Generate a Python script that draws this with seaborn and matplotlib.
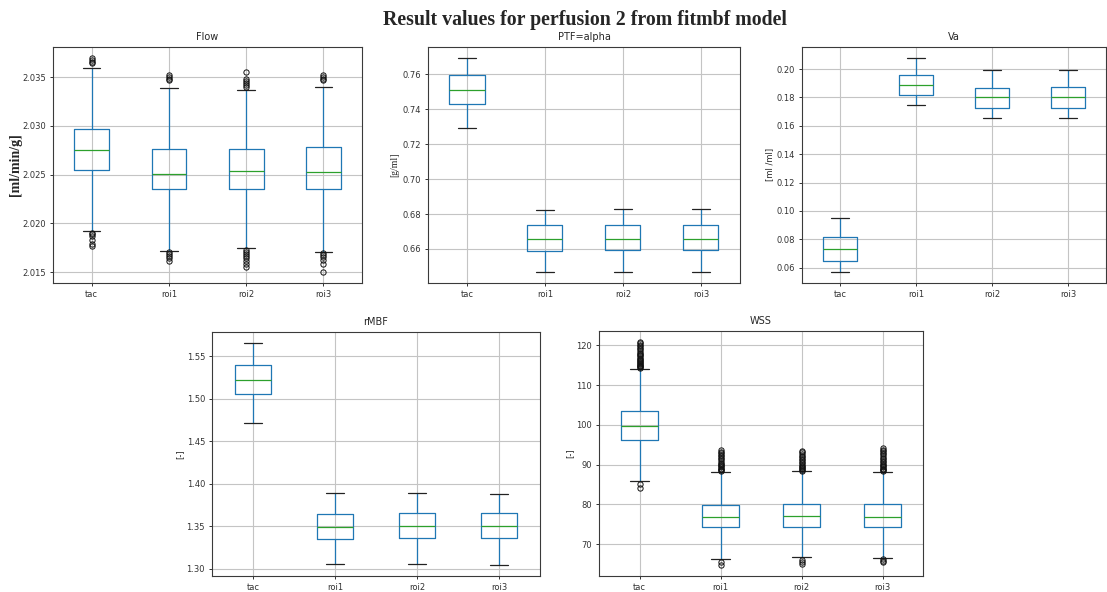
import matplotlib
matplotlib.use("Agg")
import matplotlib.pyplot as plt
import seaborn as sns

# ---- data: box statistics per model parameter ---------------------------
categories = ["tac", "roi1", "roi2", "roi3"]

flow_q1 = [2.02551, 2.02350, 2.02348, 2.02348]
flow_med = [2.02749, 2.02507, 2.02537, 2.02532]
flow_q3 = [2.02968, 2.02767, 2.02762, 2.02783]
flow_lo = [2.01926, 2.01722, 2.01744, 2.01710]
flow_hi = [2.03594, 2.03392, 2.03362, 2.03394]
flow_fliers = [
    [2.0364, 2.0365, 2.0367, 2.0370, 2.0190, 2.0189, 2.0187, 2.0183, 2.0179, 2.0177],
    [2.0347, 2.0348, 2.0350, 2.0352, 2.0171, 2.0169, 2.0167, 2.0165, 2.0162],
    [2.0340, 2.0342, 2.0344, 2.0346, 2.0348, 2.0355,
     2.0173, 2.0171, 2.0169, 2.0167, 2.0165, 2.0162, 2.0158, 2.0155],
    [2.0347, 2.0348, 2.0350, 2.0352, 2.0170, 2.0168, 2.0166, 2.0163, 2.0158, 2.0150],
]

ptf_q1 = [0.74305, 0.65886, 0.65924, 0.65924]
ptf_med = [0.75086, 0.66590, 0.66590, 0.66590]
ptf_q3 = [0.75943, 0.67352, 0.67390, 0.67350]
ptf_lo = [0.72933, 0.64667, 0.64705, 0.64705]
ptf_hi = [0.76971, 0.68248, 0.68286, 0.68286]
ptf_fliers = [[], [], [], []]

va_q1 = [0.06491, 0.18140, 0.17275, 0.17275]
va_med = [0.07345, 0.18912, 0.18000, 0.18000]
va_q3 = [0.08140, 0.19602, 0.18678, 0.18725]
va_lo = [0.05672, 0.17485, 0.16573, 0.16573]
va_hi = [0.09497, 0.20819, 0.19906, 0.19906]
va_fliers = [[], [], [], []]

rmbf_q1 = [1.50507, 1.33440, 1.33557, 1.33557]
rmbf_med = [1.52153, 1.34844, 1.35000, 1.35000]
rmbf_q3 = [1.53908, 1.36443, 1.36521, 1.36521]
rmbf_lo = [1.47075, 1.30507, 1.30507, 1.30429]
rmbf_hi = [1.56521, 1.38900, 1.38900, 1.38744]
rmbf_fliers = [[], [], [], []]

wss_q1 = [96.25, 74.3, 74.4, 74.4]
wss_med = [99.8, 76.9, 77.1, 76.9]
wss_q3 = [103.5, 79.8, 80.0, 80.0]
wss_lo = [85.8, 66.3, 66.7, 66.5]
wss_hi = [114.0, 88.2, 88.3, 88.2]
wss_fliers = [
    [114.3, 114.5, 114.7, 114.9, 115.1, 115.3, 115.5, 115.8, 116.0, 116.3, 116.6,
     116.9, 117.2, 117.5, 117.8, 118.2, 118.6, 119.0, 119.4, 119.8, 120.2, 120.5,
     120.8, 85.1, 84.2],
    [88.4, 88.6, 88.8, 89.0, 89.3, 89.6, 89.9, 90.2, 90.5, 90.9, 91.3, 91.7,
     92.1, 92.5, 92.9, 93.3, 93.7, 65.5, 64.8],
    [88.5, 88.7, 88.9, 89.1, 89.4, 89.7, 90.0, 90.3, 90.7, 91.1, 91.5, 91.9,
     92.3, 92.7, 93.1, 93.5, 66.1, 65.5, 65.0],
    [88.4, 88.6, 88.8, 89.0, 89.3, 89.6, 89.9, 90.2, 90.6, 91.0, 91.4, 91.8,
     92.2, 92.6, 93.0, 93.4, 93.8, 94.2, 66.2, 65.8, 65.5],
]

panel_titles = ["Flow", "PTF=alpha", "Va", "rMBF", "WSS"]
panel_units = ["[ml/min/g]", "[g/ml]", "[ml /ml]", "[-]", "[-]"]
suptitle = "Result values for perfusion 2 from fitmbf model"

# ---- style ---------------------------------------------------------------
sns.set_theme(style="whitegrid", rc={
    "axes.edgecolor": "#3a3a3a",
    "axes.linewidth": 0.8,
    "grid.color": "#c4c4c4",
    "grid.linewidth": 0.8,
    "xtick.bottom": True,
    "ytick.left": True,
    "xtick.major.size": 2.5,
    "ytick.major.size": 2.5,
    "xtick.major.width": 0.7,
    "ytick.major.width": 0.7,
    "xtick.major.pad": 2.5,
    "ytick.major.pad": 2.5,
    "xtick.color": "#333333",
    "ytick.color": "#333333",
    "font.size": 6,
    "xtick.labelsize": 6,
    "ytick.labelsize": 6,
    "axes.titlesize": 7,
    "axes.labelsize": 6,
})
plt.rcParams["font.family"] = ["DejaVu Sans"]

box_color = "#1f77b4"
median_color = "#2ca02c"

# axes rectangles in figure fractions: [left, bottom, width, height]
layout = [
    [0.0479, 0.522, 0.2791, 0.399],
    [0.3866, 0.522, 0.2818, 0.399],
    [0.7245, 0.522, 0.2746, 0.399],
    [0.1915, 0.0270, 0.2963, 0.412],
    [0.5411, 0.0270, 0.2927, 0.4138],
]

label_fonts = [
    dict(family="Liberation Serif", fontweight="bold", fontsize=10, labelpad=0.5),
    dict(family="Liberation Serif", fontsize=7, labelpad=2),
    dict(family="DejaVu Sans", fontsize=6, labelpad=1.5),
    dict(family="DejaVu Sans", fontsize=6, labelpad=1.5),
    dict(family="DejaVu Sans", fontsize=6, labelpad=1.5),
]

panels = [
    (flow_q1, flow_med, flow_q3, flow_lo, flow_hi, flow_fliers),
    (ptf_q1, ptf_med, ptf_q3, ptf_lo, ptf_hi, ptf_fliers),
    (va_q1, va_med, va_q3, va_lo, va_hi, va_fliers),
    (rmbf_q1, rmbf_med, rmbf_q3, rmbf_lo, rmbf_hi, rmbf_fliers),
    (wss_q1, wss_med, wss_q3, wss_lo, wss_hi, wss_fliers),
]

fig = plt.figure(figsize=(11.07, 5.92), dpi=100)
fig.patch.set_facecolor("white")

for rect, title, unit, lfont, (q1, med, q3, lo, hi, fl) in zip(
        layout, panel_titles, panel_units, label_fonts, panels):
    ax = fig.add_axes(rect)
    stats = [
        dict(label=c, q1=a, med=m, q3=b, whislo=w0, whishi=w1, fliers=f)
        for c, a, m, b, w0, w1, f in zip(categories, q1, med, q3, lo, hi, fl)
    ]
    ax.bxp(
        stats, widths=0.45, showfliers=True, patch_artist=False,
        boxprops=dict(color=box_color, linewidth=0.9),
        whiskerprops=dict(color=box_color, linewidth=0.9),
        capprops=dict(color="#222222", linewidth=0.9),
        medianprops=dict(color=median_color, linewidth=0.9),
        flierprops=dict(marker="o", markerfacecolor="none",
                        markeredgecolor="#111111", markersize=3.8,
                        markeredgewidth=0.7),
    )
    ax.set_title(title, pad=5)
    ax.set_ylabel(unit, **lfont)
    ax.grid(True, axis="both")
    ax.set_axisbelow(True)
    for s in ax.spines.values():
        s.set_visible(True)
        s.set_color("#3a3a3a")

fig.text(0.528, 0.966, suptitle, ha="center", va="center",
         family="Liberation Serif", fontweight="bold", fontsize=14.3)

fig.savefig("out.png", dpi=100, facecolor="white")
